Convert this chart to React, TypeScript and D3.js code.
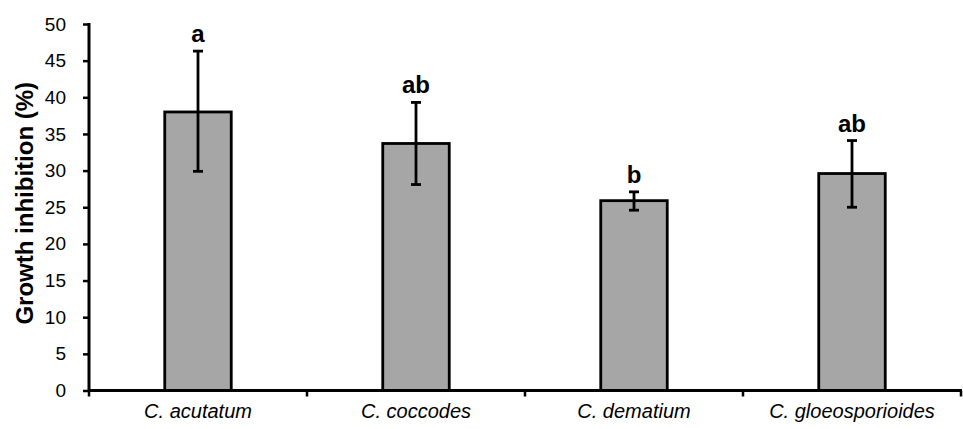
import React, { useEffect, useRef } from 'react';
import * as d3 from 'd3';

const categories = ['C. acutatum', 'C. coccodes', 'C. dematium', 'C. gloeosporioides'];
const means = [38.0, 33.7, 25.9, 29.6];
const errUpper = [46.3, 39.3, 27.1, 34.1];
const errLower = [29.9, 28.1, 24.6, 25.0];
const letters = ['a', 'ab', 'b', 'ab'];
const yTicks = [0, 5, 10, 15, 20, 25, 30, 35, 40, 45, 50];

export default function App() {
  const ref = useRef<SVGSVGElement>(null);

  useEffect(() => {
    const svg = d3.select(ref.current);
    svg.selectAll('*').remove();

    const font = '"Liberation Sans", Arial, sans-serif';
    const x = d3.scaleBand().domain(categories).range([89, 961]).padding(0);
    const y = d3.scaleLinear().domain([0, 50]).range([390.5, 24]);
    const bw = x.bandwidth() * 0.305;
    const cx = (c: string) => (x(c) as number) + x.bandwidth() / 2;

    const data = categories.map((c, i) => ({
      c, v: means[i], hi: errUpper[i], lo: errLower[i], l: letters[i],
    }));

    // bars
    svg.selectAll('.bar')
      .data(data)
      .join('rect')
      .attr('class', 'bar')
      .attr('x', d => cx(d.c) - bw / 2)
      .attr('y', d => y(d.v))
      .attr('width', bw)
      .attr('height', d => y(0) - y(d.v))
      .attr('fill', '#a6a6a6')
      .attr('stroke', '#000')
      .attr('stroke-width', 2.8);

    // error bars
    const eb = svg.selectAll('.err').data(data).join('g').attr('class', 'err')
      .attr('stroke', '#000').attr('stroke-width', 2.8);
    eb.append('line')
      .attr('x1', d => cx(d.c)).attr('x2', d => cx(d.c))
      .attr('y1', d => y(d.hi)).attr('y2', d => y(d.lo));
    eb.append('line')
      .attr('x1', d => cx(d.c) - 5).attr('x2', d => cx(d.c) + 5)
      .attr('y1', d => y(d.hi)).attr('y2', d => y(d.hi));
    eb.append('line')
      .attr('x1', d => cx(d.c) - 5).attr('x2', d => cx(d.c) + 5)
      .attr('y1', d => y(d.lo)).attr('y2', d => y(d.lo));

    // significance letters
    svg.selectAll('.letter')
      .data(data)
      .join('text')
      .attr('class', 'letter')
      .attr('x', d => cx(d.c))
      .attr('y', d => y(d.hi) - 9)
      .attr('text-anchor', 'middle')
      .style('font-family', font)
      .style('font-weight', 'bold')
      .style('font-size', '24px')
      .text(d => d.l);

    // y axis
    const yAxis = svg.append('g')
      .attr('transform', 'translate(89,0)')
      .call(d3.axisLeft(y).tickValues(yTicks).tickSize(6).tickPadding(17).tickSizeOuter(0));
    yAxis.select('.domain').attr('stroke', '#000').attr('stroke-width', 3)
      .attr('d', `M0,${y(50) - 1}V${y(0) + 1.5}`);
    yAxis.selectAll('.tick line').attr('stroke', '#000').attr('stroke-width', 2.5);
    yAxis.selectAll('.tick text')
      .attr('fill', '#000')
      .style('font-family', font)
      .style('font-size', '19px');

    // x axis
    const xAxis = svg.append('g')
      .attr('transform', 'translate(0,390.5)')
      .call(d3.axisBottom(x).tickSize(0).tickPadding(13).tickSizeOuter(0));
    xAxis.select('.domain').attr('stroke', '#000').attr('stroke-width', 3)
      .attr('d', 'M88,0H962');
    xAxis.selectAll('.tick text')
      .attr('fill', '#000')
      .style('font-family', font)
      .style('font-style', 'italic')
      .style('font-size', '20px');
    const bounds = [...categories.map(c => x(c) as number), 961];
    xAxis.selectAll('.sep')
      .data(bounds)
      .join('line')
      .attr('class', 'sep')
      .attr('x1', d => d).attr('x2', d => d)
      .attr('y1', 0).attr('y2', 6)
      .attr('stroke', '#000').attr('stroke-width', 2.5);

    // y title
    svg.append('text')
      .attr('transform', `translate(33, ${(y(0) + y(50)) / 2 - 4}) rotate(-90)`)
      .attr('text-anchor', 'middle')
      .style('font-family', font)
      .style('font-weight', 'bold')
      .style('font-size', '24px')
      .text('Growth inhibition (%)');
  }, []);

  return (
    <svg ref={ref} width={963} height={429}
      style={{ position: 'absolute', left: 0, top: 0, background: '#fff' }} />
  );
}
